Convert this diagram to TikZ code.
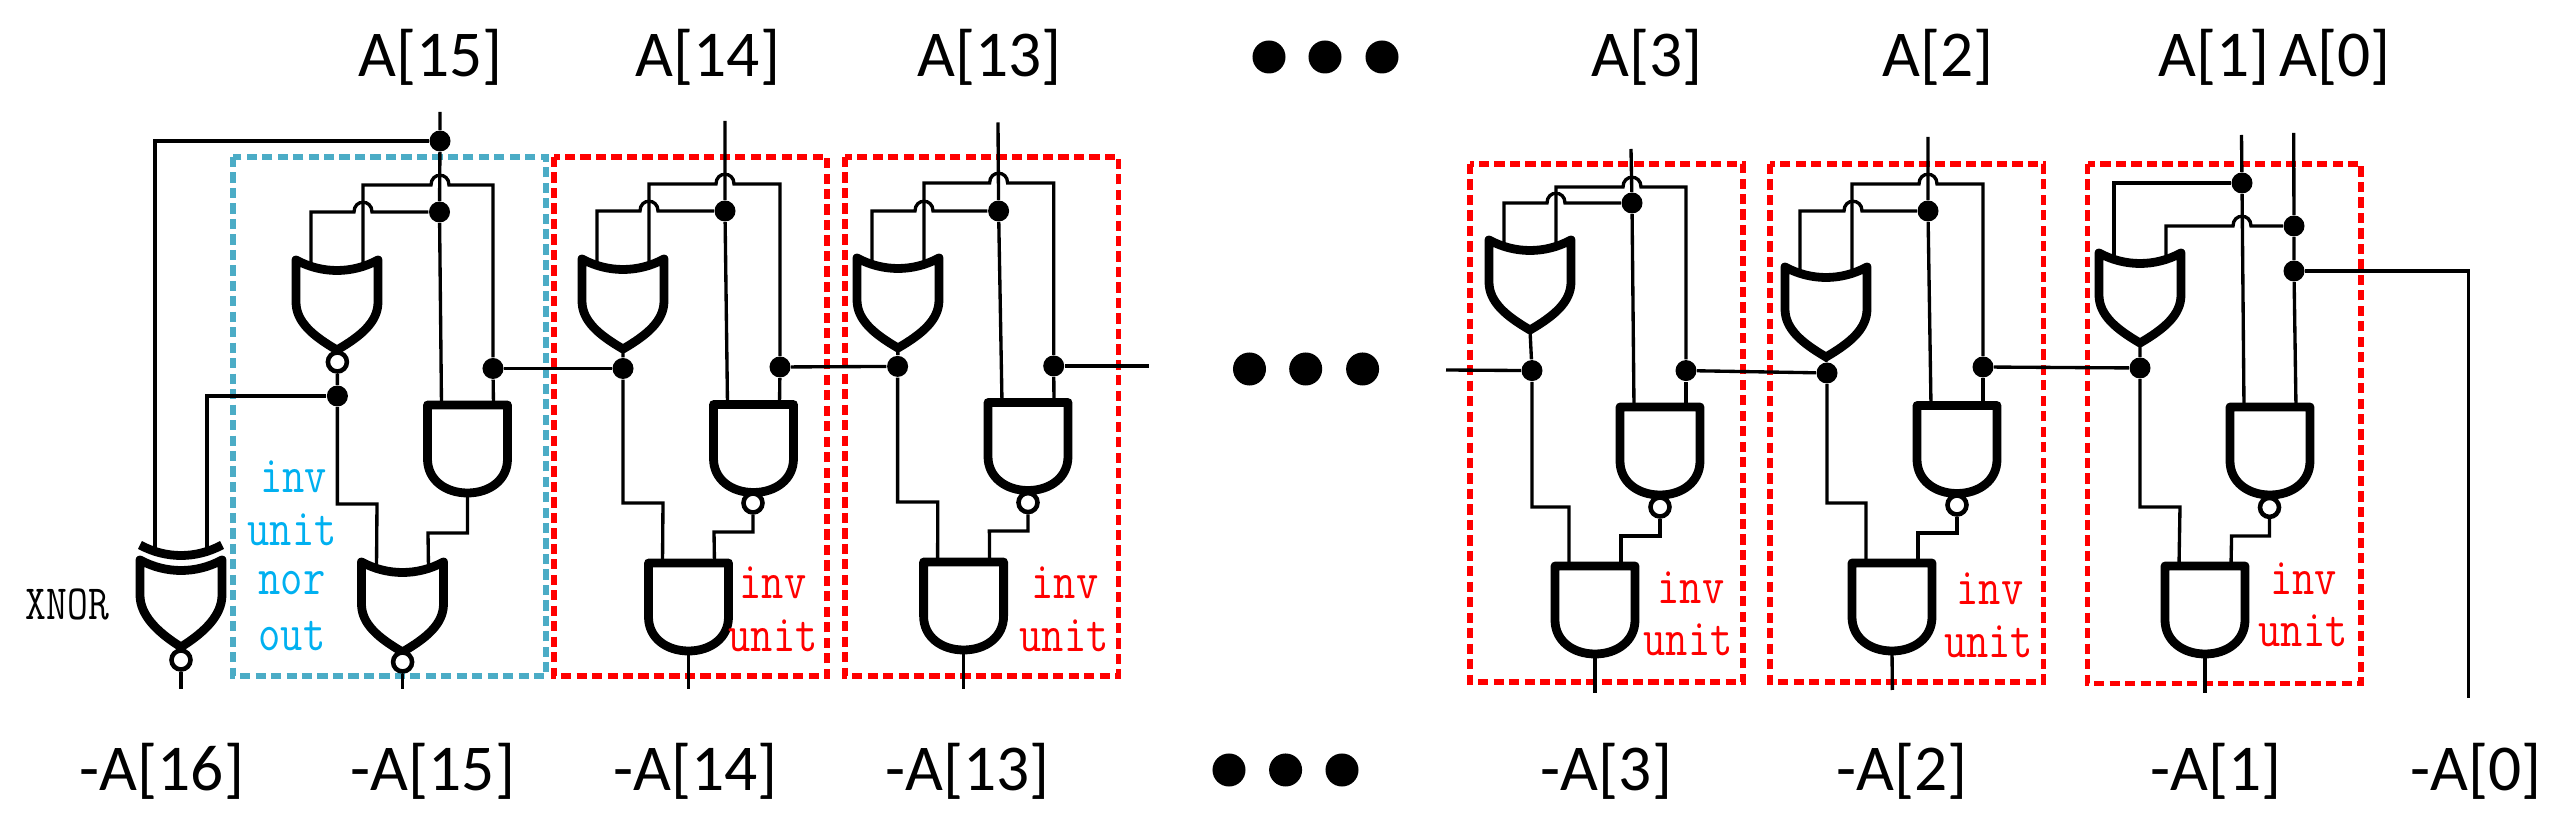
\documentclass[tikz,border=0pt]{standalone}
\usepackage{fontspec}
\setmainfont{Carlito}
\setmonofont[FakeStretch=0.82]{Latin Modern Mono}
\begin{document}
\begin{tikzpicture}[x=0.01cm,y=-0.01cm,
  wire/.style={line width=0.95pt},
  gateline/.style={line width=2.5pt,line join=round},
  junct/.style={circle,fill=black,inner sep=0pt,minimum size=0.21cm},
  bubble/.style={circle,draw,fill=white,line width=1.3pt,inner sep=0pt,minimum size=0.19cm},
  bigdot/.style={circle,fill=black,inner sep=0pt,minimum size=0.33cm},
  buslabel/.style={font=\fontsize{18.6}{22}\selectfont},
  unitlabel/.style={inner sep=0pt,font=\ttfamily\fontsize{15}{17}\selectfont},
  redbox/.style={draw=red,line width=1.6pt,dash pattern=on 2.9pt off 1.5pt},
  bluebox/.style={draw=blueline,line width=1.6pt,dash pattern=on 2.9pt off 1.5pt},
  pics/orgate/.style={code={
    \draw[gateline] (-41,0) .. controls (-15,14) and (15,14) .. (41,0) -- (41,42)
      .. controls (41,62) and (24,76) .. (0,90)
      .. controls (-24,76) and (-41,62) .. (-41,42) -- cycle;
    \coordinate (-in1) at (-26,6);
    \coordinate (-in2) at (26,6);
    \coordinate (-out) at (0,90);
  }},
  pics/xnorgate/.style={code={
    \draw[gateline] (-41,0) .. controls (-15,14) and (15,14) .. (41,0) -- (41,35)
      .. controls (41,55) and (24,72) .. (0,87)
      .. controls (-24,72) and (-41,55) .. (-41,35) -- cycle;
    \draw[gateline] (-41,-15) .. controls (-15,-1) and (15,-1) .. (41,-15);
    \coordinate (-in1) at (-26,-10);
    \coordinate (-in2) at (26,-10);
    \coordinate (-out) at (0,87);
  }},
  pics/andgate/.style={code={
    \draw[gateline] (-40,0) -- (40,0) -- (40,54)
      .. controls (40,75) and (22,88) .. (0,88)
      .. controls (-22,88) and (-40,75) .. (-40,54) -- cycle;
    \coordinate (-in1) at (-26,0);
    \coordinate (-in2) at (26,0);
    \coordinate (-out) at (0,88);
  }}]
  \definecolor{blueline}{HTML}{4BACC6}
  \definecolor{bluetext}{HTML}{00B0F0}
  \useasboundingbox (0,0) rectangle (2562,828);

  \draw[bluebox] (233,157) rectangle (546,676);
  \draw[redbox] (554,157) rectangle (827,676);
  \draw[redbox] (845,157) rectangle (1118.6,676);
  \draw[redbox] (1470,164) rectangle (1743,682);
  \draw[redbox] (1770,164) rectangle (2043.6,682);
  \draw[redbox] (2087.6,164) rectangle (2361,683.5);

  \node[buslabel] (la15) at (430.6,57) {A[15]};
  \node[buslabel] (la14) at (708,57) {A[14]};
  \node[buslabel] (la13) at (989.4,57) {A[13]};
  \node[buslabel] (la3) at (1647,57) {A[3]};
  \node[buslabel] (la2) at (1938,57) {A[2]};
  \node[buslabel] (la1) at (2214,57) {A[1]};
  \node[buslabel] (la0) at (2335,57) {A[0]};

  \node[buslabel] (ln16) at (162,771) {-A[16]};
  \node[buslabel] (ln15) at (433,771) {-A[15]};
  \node[buslabel] (ln14) at (695.5,771) {-A[14]};
  \node[buslabel] (ln13) at (967.6,771) {-A[13]};
  \node[buslabel] (ln3) at (1606.5,771) {-A[3]};
  \node[buslabel] (ln2) at (1902,771) {-A[2]};
  \node[buslabel] (ln1) at (2215.7,771) {-A[1]};
  \node[buslabel] (ln0) at (2476,771) {-A[0]};

  \node[bigdot] (top1) at (1269,57) {};
  \node[bigdot] (top2) at (1325,57) {};
  \node[bigdot] (top3) at (1382,57) {};
  \node[bigdot] (mid1) at (1249.5,369) {};
  \node[bigdot] (mid2) at (1305.7,369) {};
  \node[bigdot] (mid3) at (1362.6,369) {};
  \node[bigdot] (bot1) at (1229,770) {};
  \node[bigdot] (bot2) at (1285.6,770) {};
  \node[bigdot] (bot3) at (1342,770) {};

  % bit 15
  \pic (xnor16) at (181,560) {xnorgate};
  \pic (or15) at (337,260) {orgate};
  \pic (and15) at (467.5,405) {andgate};
  \pic (nor15) at (402.5,562) {orgate};
  \node[bubble] (b16) at (181,660) {};
  \node[bubble] (b15a) at (337.4,362) {};
  \node[bubble] (b15b) at (402.6,662) {};
  \node[junct] (d15t) at (440,141) {};
  \node[junct] (d15a) at (439.5,212) {};
  \node[junct] (d15b) at (493,368.5) {};
  \node[junct] (d15c) at (337.4,396) {};
  \coordinate (a15) at (440,112);
  \coordinate (o16) at (181,689);
  \coordinate (o15) at (402.6,689);
  \coordinate (h15a) at (431,185);
  \coordinate (h15b) at (354,212);
  \coordinate (k15a) at (377,504);
  \coordinate (k15b) at (428,533);
  \draw[wire] (a15) -- (d15t) -- (d15a) -- (and15-in1);
  \draw[wire] (d15b) -- (and15-in2);
  \draw[wire] (d15t) -| (xnor16-in1);
  \draw[wire] (d15c) -| (xnor16-in2);
  \draw[wire] (or15-in1) |- (h15b) .. controls +(0,-13) and +(0,-13) .. ++(18,0) -- (d15a);
  \draw[wire] (or15-in2) |- (h15a) .. controls +(0,-13) and +(0,-13) .. ++(18,0) -| (d15b);
  \draw[wire] (b15a) -- (d15c) |- (k15a) -- (nor15-in1);
  \draw[wire] (and15-out) |- (k15b) -- (nor15-in2);
  \draw[wire] (b16) -- (o16);
  \draw[wire] (b15b) -- (o15);
  \node[unitlabel,text=bluetext] (t15a) at (293.5,477) {inv};
  \node[unitlabel,text=bluetext] (t15b) at (292,530) {unit};
  \node[unitlabel,text=bluetext] (t15c) at (292,583.5) {nor};
  \node[unitlabel,text=bluetext] (t15d) at (292,636) {out};
  \node[font=\ttfamily\fontsize{14}{16}\selectfont] (txnor) at (67.5,604.5) {XNOR};

  % bit 14
  \pic (or14) at (623,259) {orgate};
  \pic (nand14) at (753.5,404.5) {andgate};
  \pic (and14) at (688.5,563) {andgate};
  \node[bubble] (b14) at (753,503) {};
  \node[junct] (d14a) at (725,211) {};
  \node[junct] (d14b) at (780,367) {};
  \node[junct] (d14c) at (623,368.5) {};
  \coordinate (a14) at (725,121);
  \coordinate (o14) at (688.5,689);
  \coordinate (h14a) at (716,184);
  \coordinate (h14b) at (640,211);
  \coordinate (k14a) at (663,503);
  \coordinate (k14b) at (714,532);
  \draw[wire] (a14) -- (d14a) -- (nand14-in1);
  \draw[wire] (d14b) -- (nand14-in2);
  \draw[wire] (d15b) -- (d14c);
  \draw[wire] (or14-in1) |- (h14b) .. controls +(0,-13) and +(0,-13) .. ++(18,0) -- (d14a);
  \draw[wire] (or14-in2) |- (h14a) .. controls +(0,-13) and +(0,-13) .. ++(18,0) -| (d14b);
  \draw[wire] (or14-out) -- (d14c) |- (k14a) -- (and14-in1);
  \draw[wire] (b14) |- (k14b) -- (and14-in2);
  \draw[wire] (and14-out) -- (o14);
  \node[unitlabel,text=red] (t14a) at (773,583) {inv};
  \node[unitlabel,text=red] (t14b) at (773,636) {unit};

  % bit 13
  \pic (or13) at (898,258) {orgate};
  \pic (nand13) at (1028,402.5) {andgate};
  \pic (and13) at (963.6,562) {andgate};
  \node[bubble] (b13) at (1028,502.6) {};
  \node[junct] (d13a) at (998.6,211) {};
  \node[junct] (d13b) at (1053.7,366) {};
  \node[junct] (d13c) at (897.6,366.4) {};
  \coordinate (a13) at (998,122.5);
  \coordinate (o13) at (963.6,689);
  \coordinate (n13) at (1148.5,366);
  \coordinate (h13a) at (989.6,183);
  \coordinate (h13b) at (915,211);
  \coordinate (k13a) at (937.8,502);
  \coordinate (k13b) at (989.4,531);
  \draw[wire] (a13) -- (d13a) -- (nand13-in1);
  \draw[wire] (d13b) -- (nand13-in2);
  \draw[wire] (d14b) -- (d13c);
  \draw[wire] (d13b) -- (n13);
  \draw[wire] (or13-in1) |- (h13b) .. controls +(0,-13) and +(0,-13) .. ++(18,0) -- (d13a);
  \draw[wire] (or13-in2) |- (h13a) .. controls +(0,-13) and +(0,-13) .. ++(18,0) -| (d13b);
  \draw[wire] (or13-out) -- (d13c) |- (k13a) -- (and13-in1);
  \draw[wire] (b13) |- (k13b) -- (and13-in2);
  \draw[wire] (and13-out) -- (o13);
  \node[unitlabel,text=red] (t13a) at (1065,583) {inv};
  \node[unitlabel,text=red] (t13b) at (1064,636) {unit};

  % bit 3
  \pic (or3) at (1530,240) {orgate};
  \pic (nand3) at (1660,407) {andgate};
  \pic (and3) at (1595,566) {andgate};
  \node[bubble] (b3) at (1660,507) {};
  \node[junct] (d3a) at (1632,203) {};
  \node[junct] (d3b) at (1686,370.6) {};
  \node[junct] (d3c) at (1532,370.6) {};
  \coordinate (a3) at (1631,149);
  \coordinate (o3) at (1595,692.7);
  \coordinate (n3) at (1446,370);
  \coordinate (h3a) at (1623,187);
  \coordinate (h3b) at (1547,203);
  \coordinate (k3a) at (1569,507);
  \coordinate (k3b) at (1621,536);
  \draw[wire] (a3) -- (d3a) -- (nand3-in1);
  \draw[wire] (d3b) -- (nand3-in2);
  \draw[wire] (n3) -- (d3c);
  \draw[wire] (or3-in1) |- (h3b) .. controls +(0,-13) and +(0,-13) .. ++(18,0) -- (d3a);
  \draw[wire] (or3-in2) |- (h3a) .. controls +(0,-13) and +(0,-13) .. ++(18,0) -| (d3b);
  \draw[wire] (or3-out) -- (d3c) |- (k3a) -- (and3-in1);
  \draw[wire] (b3) |- (k3b) -- (and3-in2);
  \draw[wire] (and3-out) -- (o3);
  \node[unitlabel,text=red] (t3a) at (1691,588) {inv};
  \node[unitlabel,text=red] (t3b) at (1688,640) {unit};

  % bit 2
  \pic (or2) at (1826,267) {orgate};
  \pic (nand2) at (1957,405.5) {andgate};
  \pic (and2) at (1892,563) {andgate};
  \node[bubble] (b2) at (1957,505) {};
  \node[junct] (d2a) at (1928,211) {};
  \node[junct] (d2b) at (1983,367) {};
  \node[junct] (d2c) at (1827,373) {};
  \coordinate (a2) at (1928,137);
  \coordinate (o2) at (1892.4,690);
  \coordinate (h2a) at (1919,184);
  \coordinate (h2b) at (1844,211);
  \coordinate (k2a) at (1866,503);
  \coordinate (k2b) at (1918,533);
  \draw[wire] (a2) -- (d2a) -- (nand2-in1);
  \draw[wire] (d2b) -- (nand2-in2);
  \draw[wire] (d3b) -- (d2c);
  \draw[wire] (or2-in1) |- (h2b) .. controls +(0,-13) and +(0,-13) .. ++(18,0) -- (d2a);
  \draw[wire] (or2-in2) |- (h2a) .. controls +(0,-13) and +(0,-13) .. ++(18,0) -| (d2b);
  \draw[wire] (or2-out) -- (d2c) |- (k2a) -- (and2-in1);
  \draw[wire] (b2) |- (k2b) -- (and2-in2);
  \draw[wire] (and2-out) -- (o2);
  \node[unitlabel,text=red] (t2a) at (1990,589) {inv};
  \node[unitlabel,text=red] (t2b) at (1988.6,641.5) {unit};

  % bit 1 and bit 0
  \pic (or1) at (2140,253) {orgate};
  \pic (nand1) at (2270,407) {andgate};
  \pic (and1) at (2205,566) {andgate};
  \node[bubble] (b1) at (2269.5,507.4) {};
  \node[junct] (d1a) at (2242,183) {};
  \node[junct] (d1c) at (2140,368) {};
  \node[junct] (d0a) at (2294,226) {};
  \node[junct] (d0b) at (2294,271) {};
  \coordinate (a1) at (2241.5,135);
  \coordinate (a0) at (2293.7,133);
  \coordinate (o1) at (2205,692.7);
  \coordinate (o0) at (2468.6,698);
  \coordinate (h1a) at (2233,226);
  \coordinate (k1a) at (2180,507);
  \coordinate (k1b) at (2231.6,536);
  \draw[wire] (a1) -- (d1a) -- (nand1-in1);
  \draw[wire] (a0) -- (d0a) -- (d0b) -- (nand1-in2);
  \draw[wire] (d2b) -- (d1c);
  \draw[wire] (or1-in1) |- (d1a);
  \draw[wire] (or1-in2) |- (h1a) .. controls +(0,-13) and +(0,-13) .. ++(18,0) -- (d0a);
  \draw[wire] (or1-out) -- (d1c) |- (k1a) -- (and1-in1);
  \draw[wire] (b1) |- (k1b) -- (and1-in2);
  \draw[wire] (and1-out) -- (o1);
  \draw[wire] (d0b) -| (o0);
  \node[unitlabel,text=red] (t1a) at (2303.6,579) {inv};
  \node[unitlabel,text=red] (t1b) at (2303,631) {unit};
\end{tikzpicture}
\end{document}
